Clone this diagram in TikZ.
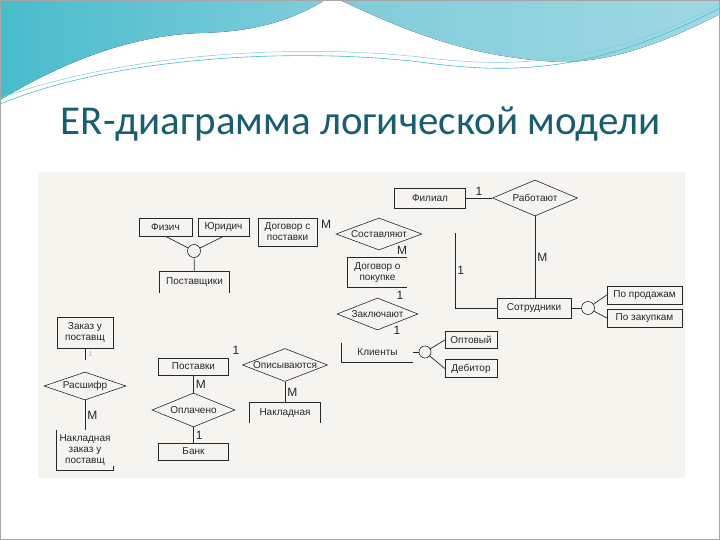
\documentclass[tikz,border=0pt]{standalone}
\usepackage{fontspec}
\setmainfont{Carlito}
\newfontfamily\erfont{Liberation Sans}
\usetikzlibrary{shapes.geometric,positioning}

\definecolor{titleblue}{RGB}{24,94,112}
\definecolor{wavea}{RGB}{72,188,204}
\definecolor{waveb}{RGB}{128,204,218}
\definecolor{wavec}{RGB}{160,216,228}
\definecolor{diagbg}{RGB}{246,244,239}
\definecolor{erink}{RGB}{40,40,40}

\begin{document}
\begin{tikzpicture}[x=1pt,y=-1pt,semithick,
	ent/.style={draw=erink,rectangle,inner sep=0.5pt,align=center,
		font=\erfont\fontsize{10}{11}\selectfont,text=erink},
	entopen/.style={rectangle,inner sep=0.5pt,align=center,
		font=\erfont\fontsize{10}{11}\selectfont,text=erink},
	rel/.style={draw=erink,diamond,inner sep=0pt,
		label={[font=\erfont\fontsize{10}{11}\selectfont,text=erink,inner sep=0pt]center:#1}},
	sub/.style={draw=erink,circle,inner sep=0pt,minimum size=13pt},
	card/.style={font=\erfont\fontsize{12}{12}\selectfont,text=erink,inner sep=2pt},
	link/.style={draw=erink,line width=0.7pt}]
	\useasboundingbox (0,0) rectangle (720,540);
	\fill[white] (0,0) rectangle (720,540);

	% top waves
	\fill[left color=wavea,right color=waveb] (0,0) -- (325,0)
		.. controls (290,22) and (250,32) .. (200,33)
		.. controls (120,36) and (50,70) .. (0,100) -- cycle;
	\fill[left color=waveb,right color=wavec] (340,0) -- (720,0) -- (720,14)
		.. controls (660,45) and (610,62) .. (560,62)
		.. controls (480,58) and (420,38) .. (340,0) -- cycle;
	\draw[wavea,line width=0.6pt] (0,104) .. controls (120,55) and (300,48) .. (420,62)
		.. controls (520,76) and (600,70) .. (720,8);
	\draw[waveb,line width=0.5pt] (0,98) .. controls (130,52) and (300,44) .. (420,57)
		.. controls (520,70) and (610,62) .. (720,4);
	\draw[gray!70,line width=1pt] (0.5,0.5) rectangle (719.5,539.5);

	\node[font=\fontsize{41}{45}\selectfont,text=titleblue] (title) at (361,124)
		{ER-диаграмма логической модели};

	% diagram area
	\fill[diagbg] (38,172) rectangle (685,478);

	% suppliers
	\node[ent,minimum width=53pt,minimum height=18pt] (fiz) at (165.5,227) {Физич};
	\node[ent,minimum width=51pt,minimum height=18pt] (yur) at (223.5,227) {Юридич};
	\node[ent,minimum width=59pt,minimum height=28pt] (dogpost) at (287.5,232) {Договор с\\поставки};
	\node[sub] (sup) at (194,251) {};
	\node[entopen,minimum width=70pt,minimum height=21pt] (postav) at (194.5,282) {Поставщики};
	\draw[link] (postav.south west) -- (postav.north west) -- (postav.north east) -- (postav.south east);

	% branch and staff
	\node[ent,minimum width=71pt,minimum height=20pt] (fil) at (430,198) {Филиал};
	\node[rel=Работают,minimum width=85pt,minimum height=36pt] (rab) at (535,198) {};
	\node[ent,minimum width=74pt,minimum height=20pt] (sotr) at (534,308) {Сотрудники};
	\node[sub] (cirs) at (588,308) {};
	\node[ent,minimum width=75pt,minimum height=18pt] (popr) at (644.5,295) {По продажам};
	\node[ent,minimum width=75pt,minimum height=18pt] (poza) [below of=popr,node distance=23pt] {По закупкам};
	\coordinate (cL) at (455,233);

	% contracts and clients
	\node[rel=Составляют,minimum width=86pt,minimum height=32pt] (sost) at (379,234) {};
	\node[entopen,minimum width=59pt,minimum height=29pt] (dogpok) at (377.5,272.5) {Договор о\\покупке};
	\draw[link] (dogpok.north east) -- (dogpok.north west) -- (dogpok.south west) -- (dogpok.south east);
	\node[rel=Заключают,minimum width=81pt,minimum height=32pt] (zakl) at (377.5,314) {};
	\node[entopen,minimum width=71pt,minimum height=19pt] (klient) at (377.5,352.5) {Клиенты};
	\draw[link] (klient.north west) -- (klient.south west) -- (klient.south east);
	\node[sub,minimum size=12pt] (cirkl) at (425,352) {};
	\node[ent,minimum width=52pt,minimum height=17pt] (opt) at (471,340) {Оптовый};
	\node[ent,minimum width=52pt,minimum height=18pt] (deb) [below of=opt,node distance=28.5pt] {Дебитор};

	% orders
	\node[ent,minimum width=56pt,minimum height=31pt] (zakaz) at (85,333) {Заказ у\\поставщ};
	\coordinate (zk) at (85,360);
	\node[rel=Расшифр,minimum width=82pt,minimum height=28pt] (rassh) at (85,386) {};
	\node[entopen,minimum width=56pt,minimum height=40pt] (nakz) at (85,450) {Накладная\\заказ у\\поставщ};
	\draw[link] (nakz.north west) -- (nakz.south west) -- (nakz.south east) -- ++(0,-4);

	% deliveries
	\node[ent,minimum width=70pt,minimum height=17pt] (postavki) at (193.5,366.5) {Поставки};
	\node[rel=Описываются,minimum width=85pt,minimum height=33pt] (opis) at (285,365) {};
	\node[entopen,minimum width=71pt,minimum height=20pt] (nakl) at (285,413) {Накладная};
	\draw[link] (nakl.south west) -- (nakl.north west) -- (nakl.north east) -- (nakl.south east);
	\node[rel=Оплачено,minimum width=83pt,minimum height=34pt] (opl) at (193.5,410) {};
	\node[ent,minimum width=70pt,minimum height=17pt] (bank) [below of=opl,node distance=41.5pt] {Банк};

	% connectors
	\draw[link] (fiz.south) -- (sup);
	\draw[link] (yur.south) -- (sup);
	\draw[link] (sup) -- (postav);
	\draw[link] (fil) -- node[card,above] {1} (rab);
	\draw[link] (rab.south) -- node[card,right] {M} (rab.south |- sotr.north);
	\draw[link] (cL) -- node[card,right] {1} (cL |- sotr) -- (sotr);
	\draw[link] (sotr) -- (cirs);
	\draw[link] (cirs) -- (popr.west);
	\draw[link] (cirs) -- (poza.west);
	\draw[link] (klient.south east |- cirkl) -- (cirkl);
	\draw[link] (cirkl) -- (opt.west);
	\draw[link] (cirkl) -- (deb.west);
	\draw[link] (zakaz.south) -- node[right,text=gray!60,font=\erfont\fontsize{7}{7}\selectfont] {1} (zk);
	\draw[link] (rassh.south) -- node[card,right] {M} (nakz.north);
	\draw[link] (postavki) -- node[card,right] {M} (opl);
	\draw[link] (opl) -- node[card,right] {1} (bank);
	\draw[link] (opis) -- node[card,right] {M} (nakl);

	% cardinalities without a drawn line
	\node[card] (mdog) at (326,224) {M};
	\node[card] (msost) at (402,250) {M};
	\node[card] (ezakl) at (400,295) {1};
	\node[card] (ezakl2) at (397,330) {1};
	\node[card] (eopis) at (236,350) {1};
\end{tikzpicture}
\end{document}
